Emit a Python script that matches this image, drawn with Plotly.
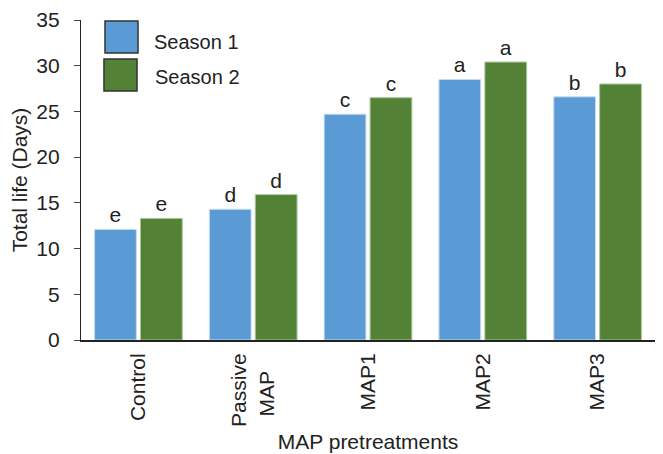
import plotly.graph_objects as go

categories = ["Control", "Passive<br>MAP&nbsp;&nbsp;&nbsp;", "MAP1", "MAP2", "MAP3"]
season1 = [12.1, 14.3, 24.7, 28.5, 26.6]
season2 = [13.3, 15.9, 26.5, 30.4, 28.0]
letters1 = ["e", "d", "c", "a", "b"]
letters2 = ["e", "d", "c", "a", "b"]
series_names = ["Season 1", "Season 2"]
y_ticks = [0, 5, 10, 15, 20, 25, 30, 35]

blue = "#5B9BD5"
green = "#538135"
FONT = "Liberation Sans, Arial, sans-serif"
txtcol = "#222222"

fig = go.Figure()
fig.add_trace(go.Bar(
    x=categories, y=season1, name=series_names[0],
    marker=dict(color=blue, line=dict(color="#C9DDF0", width=1)),
    text=letters1, textposition="outside", cliponaxis=False,
    textfont=dict(size=21, color=txtcol, family=FONT),
))
fig.add_trace(go.Bar(
    x=categories, y=season2, name=series_names[1],
    marker=dict(color=green, line=dict(color="#A9C79A", width=1)),
    text=letters2, textposition="outside", cliponaxis=False,
    textfont=dict(size=21, color=txtcol, family=FONT),
))

# custom legend (large swatches)
legend_items = [
    (series_names[0], blue, 0.0418, 0.0993, 0.897, 0.997, 0.1237, 0.931),
    (series_names[1], green, 0.040, 0.0976, 0.778, 0.878, 0.125, 0.822),
]
for name, col, x0, x1, y0, y1, tx, ty in legend_items:
    fig.add_shape(type="rect", xref="paper", yref="paper",
                  x0=x0, x1=x1, y0=y0, y1=y1,
                  fillcolor=col, line=dict(color="#333333", width=1.5))
    fig.add_annotation(xref="paper", yref="paper", x=tx, y=ty, text=name,
                       showarrow=False, xanchor="left", yanchor="middle",
                       font=dict(size=20, color=txtcol, family=FONT))

fig.update_layout(
    width=663, height=454,
    margin=dict(l=73, r=16, t=12, b=122),
    paper_bgcolor="white", plot_bgcolor="white",
    barmode="group", bargap=0.2, bargroupgap=0.09,
    showlegend=False,
    font=dict(family=FONT, size=20, color=txtcol),
    xaxis=dict(
        title=dict(text="MAP pretreatments", font=dict(size=21), standoff=8),
        tickangle=-90, showline=True, linecolor="#222222", linewidth=2,
        ticks="", showgrid=False, tickfont=dict(size=21), automargin=False,
        ticklabelstandoff=3,
    ),
    yaxis=dict(
        title=dict(text="Total life (Days)", font=dict(size=21), standoff=2),
        range=[0, 35], tickvals=y_ticks, showline=True, linecolor="#222222",
        linewidth=1.2, ticks="outside", ticklen=6, tickcolor="#444444",
        showgrid=False, zeroline=False, tickfont=dict(size=21), automargin=False,
        ticklabelstandoff=10,
    ),
)

fig.write_html("out.html")
